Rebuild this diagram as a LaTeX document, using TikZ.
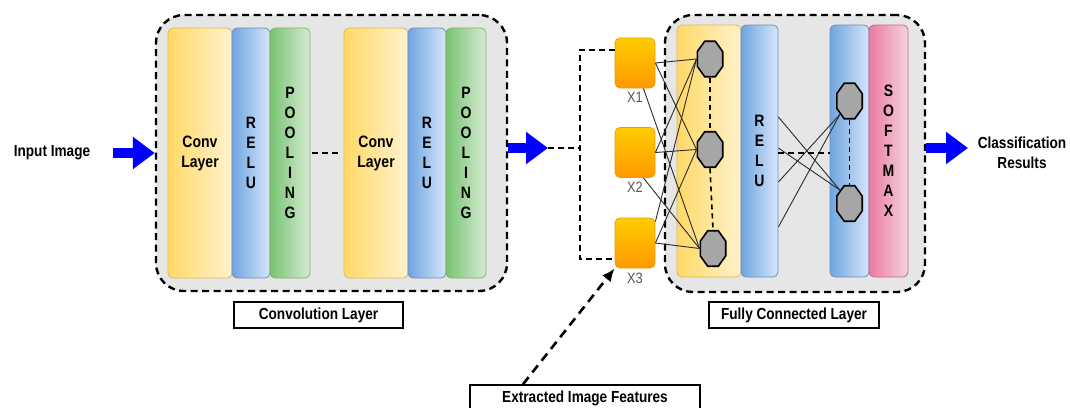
\documentclass[tikz,border=0pt]{standalone}
\usepackage{fontspec}
\setmainfont[FakeStretch=0.85]{Liberation Sans}
\usetikzlibrary{positioning,shapes.geometric,arrows.meta}
\definecolor{bggray}{HTML}{E6E6E6}
\definecolor{yleft}{HTML}{FFD966}
\definecolor{yright}{HTML}{FFF2CC}
\definecolor{ybord}{HTML}{E0B850}
\definecolor{bleft}{HTML}{6FA5E0}
\definecolor{bright}{HTML}{D6E6FA}
\definecolor{bbord}{HTML}{6C8EBF}
\definecolor{gleft}{HTML}{78C473}
\definecolor{gright}{HTML}{D5EAD3}
\definecolor{gbord}{HTML}{82B366}
\definecolor{pleft}{HTML}{EC7AA3}
\definecolor{pright}{HTML}{F2D3DF}
\definecolor{pbord}{HTML}{C86690}
\definecolor{xtop}{HTML}{FFCC00}
\definecolor{xbot}{HTML}{FF9900}
\definecolor{xbord}{HTML}{E8A000}
\definecolor{octgray}{HTML}{A6A6A6}
\definecolor{arrowblue}{HTML}{0000FF}
\definecolor{linkgray}{HTML}{2B2B2B}
\definecolor{xgray}{HTML}{555555}
\begin{document}
\begin{tikzpicture}[x=1pt, y=-1pt,
  every node/.style={font=\bfseries\fontsize{16}{20}\selectfont, inner sep=0pt},
  frame/.style={draw, fill=bggray, line width=2.4pt, dash pattern=on 7pt off 4.5pt, rounded corners=28pt},
  band/.style={draw, line width=0.8pt, rounded corners=5pt, align=center, font=\bfseries\fontsize{16.5}{20}\selectfont},
  yellowcol/.style={band, draw=ybord, left color=yleft, right color=yright, minimum width=64pt},
  bluecol/.style={band, draw=bbord, left color=bleft, right color=bright},
  greencol/.style={band, draw=gbord, left color=gleft, right color=gright, minimum width=40pt},
  pinkcol/.style={band, draw=pbord, left color=pleft, right color=pright, minimum width=39pt},
  xbox/.style={draw=xbord, line width=0.8pt, top color=xtop, bottom color=xbot, rounded corners=5pt, minimum width=40pt, minimum height=50pt},
  xtag/.style={font=\fontsize{15}{17}\selectfont, text=xgray, inner sep=1pt},
  neuron/.style={regular polygon, regular polygon sides=8, minimum size=27.5pt, draw, line width=1.6pt, fill=octgray, transform shape, yscale=1.4},
  labbox/.style={draw, line width=1.6pt, minimum height=26pt},
  link/.style={line width=0.9pt, draw=linkgray},
  dashline/.style={line width=2pt, dash pattern=on 6pt off 4pt},
  bigarrow/.style={line width=10pt, draw=arrowblue, -{Triangle[length=22pt, width=31pt]}}
]
\useasboundingbox (0,0) rectangle (1070,407);
\clip (0,0) rectangle (1070,407);

\node (input) at (52,153) {Input Image};
\node[frame, minimum width=351pt, minimum height=276pt] (convbox) at (331.5,153) {};
\node[yellowcol, minimum height=250pt] (conv1) at (200,153) {Conv\\Layer};
\node[bluecol, minimum width=38pt, minimum height=250pt] (relu1) at (251,153) {R\\E\\L\\U};
\node[greencol, minimum height=250pt] (pool1) at (290,153) {P\\O\\O\\L\\I\\N\\G};
\node[yellowcol, minimum height=250pt] (conv2) at (376,153) {Conv\\Layer};
\node[bluecol, minimum width=38pt, minimum height=250pt] (relu2) at (427,153) {R\\E\\L\\U};
\node[greencol, minimum height=250pt] (pool2) at (466,153) {P\\O\\O\\L\\I\\N\\G};
\draw[dashline] ([xshift=2pt]pool1.east) -- ([xshift=-3pt]conv2.west);
\node[labbox, minimum width=169pt] (convlab) at (318.5,315) {Convolution Layer};
\draw[bigarrow] ([xshift=23pt]input.east) -- (convbox.west);

\node[frame, minimum width=260pt, minimum height=277pt] (fcbox) at (795,153.5) {};
\node[yellowcol, minimum height=252pt] (fcyellow) at (709,151) {};
\node[bluecol, minimum width=37pt, minimum height=252pt] (fcrelu) at (759.5,151) {R\\E\\L\\U};
\node[bluecol, minimum width=39pt, minimum height=252pt] (fcblue) at (849.5,151) {};
\node[pinkcol, minimum height=252pt] (fcsoft) at (888.5,151) {S\\O\\F\\T\\M\\A\\X};
\node[labbox, minimum width=170pt] (fclab) at (794,315) {Fully Connected Layer};

\node[xbox] (x1) at (635,63) {};
\node[xbox] (x2) at (635,152.5) {};
\node[xbox] (x3) at (635,243) {};
\node[xtag, below=3pt of x1] (x1lab) {X1};
\node[xtag, below=3pt of x2] (x2lab) {X2};
\node[xtag, below=3pt of x3] (x3lab) {X3};

\coordinate (a2tip) at (548,148);
\coordinate (brtop) at (580,50);
\coordinate (brbot) at (580,259);
\draw[bigarrow] (convbox.east |- a2tip) -- (a2tip);
\draw[dashline] (a2tip) -- (brtop |- a2tip);
\draw[dashline] (x1.west |- brtop) -- (brtop) -- (brbot) -- (x3.west |- brbot);

\node[neuron] (o1) at (710,59) {};
\node[neuron] (o2) at (710,149.5) {};
\node[neuron] (o3) at (713,248.5) {};
\node[neuron] (o4) at (849.5,101) {};
\node[neuron] (o5) at (849.5,203.5) {};
\draw[dashline, line width=1.6pt, dash pattern=on 5pt off 4pt] (o1.south) -- (o2.north);
\draw[dashline, line width=1.6pt, dash pattern=on 5pt off 4pt] (o2.south) -- (o3.north);
\draw[dashline, line width=1.6pt, dash pattern=on 5pt off 4pt] (o4.south) -- (o5.north);

\draw[link] (x1.east) -- (o1.west);
\draw[link] (x1.east) -- (o2.west);
\draw[link] ([xshift=-12pt]x1.south east) -- (o3.west);
\draw[link] (x2.east) -- (o1.west);
\draw[link] (x2.east) -- (o2.west);
\draw[link] ([xshift=-12pt]x2.south east) -- (o3.west);
\draw[link] ([yshift=-4pt]x3.north east) -- (o1.west);
\draw[link] (x3.east) -- (o2.west);
\draw[link] (x3.east) -- (o3.west);

\draw[link] ([yshift=34pt]fcrelu.east) -- (o5.north west);
\draw[link] ([yshift=3pt]fcrelu.east) -- (o5.north west);
\draw[link] ([yshift=-31pt]fcrelu.east) -- (o4.south west);
\draw[link] ([yshift=-76pt]fcrelu.east) -- (o4.south west);
\draw[dashline] ([yshift=-2pt]fcrelu.east) -- ([yshift=-2pt]fcblue.west);

\coordinate (a3tip) at (968,148);
\draw[bigarrow] (fcbox.east |- a3tip) -- (a3tip);
\node[align=center] (result) at (1022,153) {Classification\\Results};

\node[labbox, minimum width=230pt] (feat) at (585,398) {Extracted Image Features};
\draw[line width=2.6pt, dash pattern=on 9pt off 6pt, -{Latex[length=13pt, width=11pt]}] ([xshift=-62pt]feat.north) -- (x3.south west);
\end{tikzpicture}
\end{document}
